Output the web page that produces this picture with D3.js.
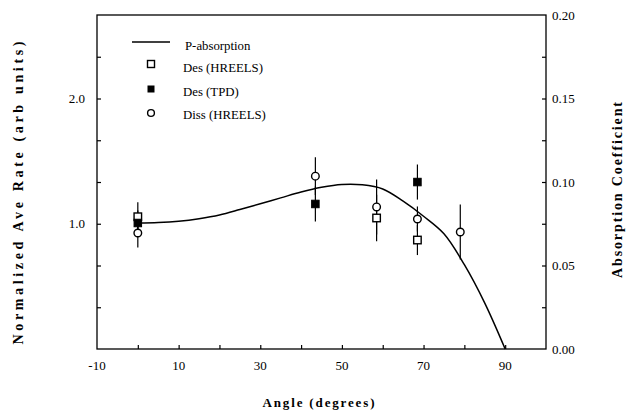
<!DOCTYPE html>
<html>
<head>
<meta charset="utf-8">
<script src="https://cdn.jsdelivr.net/npm/d3@7/dist/d3.min.js"></script>
<style>
  html, body { margin: 0; padding: 0; background: #fff; }
  svg { display: block; }
</style>
</head>
<body>
<svg id="chart" width="637" height="414" font-family="Liberation Serif"></svg>
<script>
// ---- data ----
const curveAngle = [0, 5, 10, 15, 20, 25, 30, 35, 40, 45, 50, 55, 60, 65, 70, 75, 80, 85, 90];
const curveAbs   = [0.0754, 0.0757, 0.0765, 0.0780, 0.0802, 0.0835, 0.0870, 0.0905, 0.0940, 0.0968, 0.0985, 0.0983, 0.0958, 0.0885, 0.0795, 0.0690, 0.0505, 0.0275, 0.0];

const desHreelsAngle = [0, 58.5, 68.5];
const desHreelsRate  = [1.056, 1.046, 0.870];
const desHreelsErr   = [0.115, 0.185, 0.120];

const desTpdAngle = [0, 43.5, 68.5];
const desTpdRate  = [1.006, 1.158, 1.333];
const desTpdErr   = [0.10, 0.14, 0.14];

const dissHreelsAngle = [0, 43.5, 58.5, 68.5, 79];
const dissHreelsRate  = [0.926, 1.380, 1.134, 1.038, 0.934];
const dissHreelsErr   = [0.115, 0.150, 0.220, 0.100, 0.220];

const xTickLabels = [-10, 10, 30, 50, 70, 90];
const leftTickLabels = [1.0, 2.0];
const rightTickLabels = [0.00, 0.05, 0.10, 0.15, 0.20];

const legendLabels = ["P-absorption", "Des (HREELS)", "Des (TPD)", "Diss (HREELS)"];

// ---- layout ----
const FONT = "Liberation Serif";
const svg = d3.select("#chart");
const L = 97, R = 546, T = 15, B = 349;

const x = d3.scaleLinear().domain([-10, 100]).range([L, R]);
const yL = d3.scaleLinear().domain([0, 8 / 3]).range([B, T]);
const yR = d3.scaleLinear().domain([0, 0.20]).range([B, T]);

// frame
svg.append("rect").attr("x", L).attr("y", T).attr("width", R - L).attr("height", B - T)
  .attr("fill", "none").attr("stroke", "#000").attr("stroke-width", 1.3);

// bottom axis: ticks every 10 (inward), labels every 20
const xAxis = d3.axisBottom(x).tickValues(d3.range(0, 100, 10)).tickSize(-4).tickFormat("");
svg.append("g").attr("transform", `translate(0,${B})`).call(xAxis)
  .call(g => g.select(".domain").remove())
  .call(g => g.selectAll("line").attr("stroke-width", 1.2));
svg.append("g").selectAll("text").data(xTickLabels).join("text")
  .attr("x", d => x(d)).attr("y", B + 21).attr("text-anchor", "middle")
  .attr("font-family", FONT).attr("font-size", 13).text(d => d);

// left axis: ticks every 1/3, labels 1.0, 2.0
const leftTicks = d3.range(1, 8).map(i => i / 3);
const yLAxis = d3.axisLeft(yL).tickValues(leftTicks).tickSize(-4).tickFormat("");
svg.append("g").attr("transform", `translate(${L},0)`).call(yLAxis)
  .call(g => g.select(".domain").remove())
  .call(g => g.selectAll("line").attr("stroke-width", 1.2));
svg.append("g").selectAll("text").data(leftTickLabels).join("text")
  .attr("x", L - 12).attr("y", d => yL(d) + 4.5).attr("text-anchor", "end")
  .attr("font-family", FONT).attr("font-size", 13).text(d => d.toFixed(1));

// right axis: ticks every 0.025, labels every 0.05
const rightTicks = d3.range(1, 8).map(i => i * 0.025);
const yRAxis = d3.axisRight(yR).tickValues(rightTicks).tickSize(-4).tickFormat("");
svg.append("g").attr("transform", `translate(${R},0)`).call(yRAxis)
  .call(g => g.select(".domain").remove())
  .call(g => g.selectAll("line").attr("stroke-width", 1.2));
svg.append("g").selectAll("text").data(rightTickLabels).join("text")
  .attr("x", R + 6).attr("y", d => yR(d) + 4.5).attr("text-anchor", "start")
  .attr("font-family", FONT).attr("font-size", 13).text(d => d.toFixed(2));

// axis titles
svg.append("text").attr("x", (L + R) / 2 - 3).attr("y", 407).attr("text-anchor", "middle")
  .attr("font-family", FONT).attr("font-size", 13).attr("font-weight", "bold")
  .attr("textLength", 112).attr("lengthAdjust", "spacing").text("Angle (degrees)");
svg.append("text").attr("transform", `translate(23,193) rotate(-90)`).attr("text-anchor", "middle")
  .attr("font-family", FONT).attr("font-size", 14).attr("font-weight", "bold")
  .attr("textLength", 303).attr("lengthAdjust", "spacing").text("Normalized Ave Rate (arb units)");
svg.append("text").attr("transform", `translate(622,190) rotate(-90)`).attr("text-anchor", "middle")
  .attr("font-family", FONT).attr("font-size", 14).attr("font-weight", "bold")
  .attr("textLength", 176).attr("lengthAdjust", "spacing").text("Absorption Coefficient");

// curve
const line = d3.line().x((d, i) => x(curveAngle[i])).y(d => yR(d)).curve(d3.curveCatmullRom.alpha(0.5));
svg.append("path").datum(curveAbs).attr("d", line)
  .attr("fill", "none").attr("stroke", "#000").attr("stroke-width", 1.5);

// error bars
function errBars(angles, vals, errs) {
  svg.append("g").selectAll("line").data(vals).join("line")
    .attr("x1", (d, i) => x(angles[i])).attr("x2", (d, i) => x(angles[i]))
    .attr("y1", (d, i) => yL(d + errs[i])).attr("y2", (d, i) => yL(d - errs[i]))
    .attr("stroke", "#000").attr("stroke-width", 1.2);
}
errBars(dissHreelsAngle, dissHreelsRate, dissHreelsErr);
errBars(desHreelsAngle, desHreelsRate, desHreelsErr);
errBars(desTpdAngle, desTpdRate, desTpdErr);

const S = 7.5;
// open squares
svg.append("g").selectAll("rect").data(desHreelsRate).join("rect")
  .attr("x", (d, i) => x(desHreelsAngle[i]) - S / 2).attr("y", d => yL(d) - S / 2)
  .attr("width", S).attr("height", S).attr("fill", "#fff").attr("stroke", "#000").attr("stroke-width", 1.4);
// filled squares
svg.append("g").selectAll("rect").data(desTpdRate).join("rect")
  .attr("x", (d, i) => x(desTpdAngle[i]) - S / 2).attr("y", d => yL(d) - S / 2)
  .attr("width", S).attr("height", S).attr("fill", "#000").attr("stroke", "#000").attr("stroke-width", 1);
// open circles
svg.append("g").selectAll("circle").data(dissHreelsRate).join("circle")
  .attr("cx", (d, i) => x(dissHreelsAngle[i])).attr("cy", d => yL(d)).attr("r", 3.8)
  .attr("fill", "#fff").attr("stroke", "#000").attr("stroke-width", 1.4);

// legend
const lg = svg.append("g");
lg.append("line").attr("x1", 132).attr("x2", 170).attr("y1", 42).attr("y2", 42)
  .attr("stroke", "#000").attr("stroke-width", 1.6);
const legY = [45, 67, 91, 114];
lg.selectAll("text").data(legendLabels).join("text")
  .attr("x", (d, i) => i === 0 ? 185 : 183).attr("y", (d, i) => legY[i] + 4.5)
  .attr("font-family", FONT).attr("font-size", 12.8).text(d => d);
const ls = 7;
lg.append("rect").attr("x", 151 - ls / 2).attr("y", 64 - ls / 2).attr("width", ls).attr("height", ls)
  .attr("fill", "#fff").attr("stroke", "#000").attr("stroke-width", 1.4);
lg.append("rect").attr("x", 151 - ls / 2).attr("y", 89 - ls / 2).attr("width", ls).attr("height", ls)
  .attr("fill", "#000");
lg.append("circle").attr("cx", 151).attr("cy", 113).attr("r", 3.4)
  .attr("fill", "#fff").attr("stroke", "#000").attr("stroke-width", 1.4);
</script>
</body>
</html>
